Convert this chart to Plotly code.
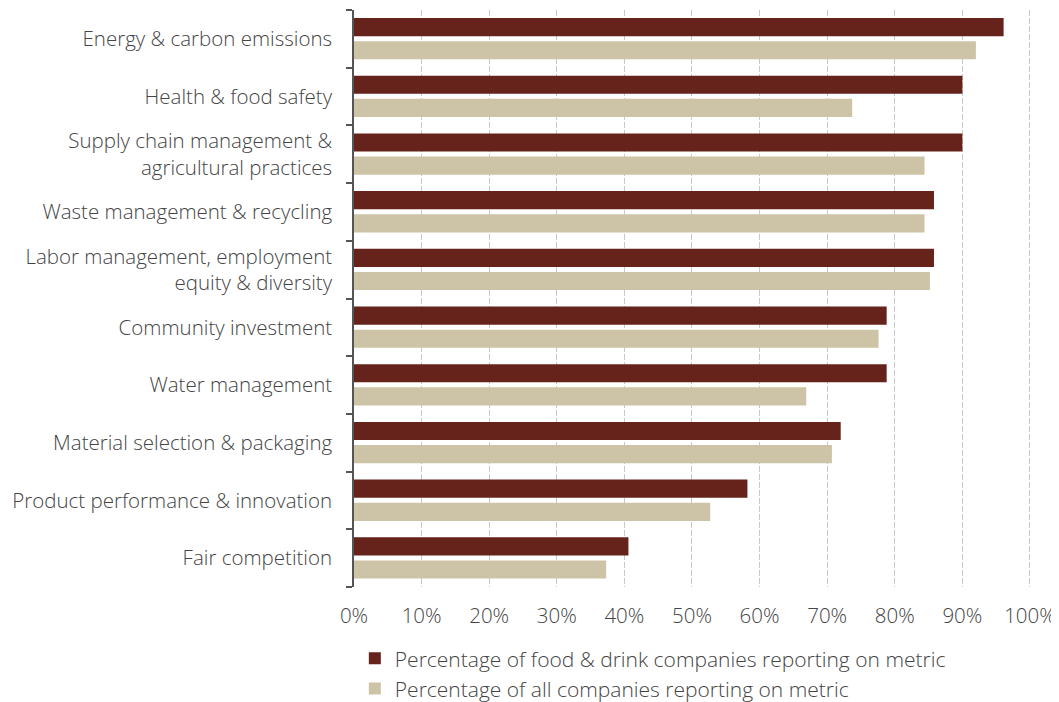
import plotly.graph_objects as go

categories = [
    "Energy & carbon emissions",
    "Health & food safety",
    "Supply chain management &<br>agricultural practices",
    "Waste management & recycling",
    "Labor management, employment<br>equity & diversity",
    "Community investment",
    "Water management",
    "Material selection & packaging",
    "Product performance & innovation",
    "Fair competition",
]
food_drink = [96.1, 90.0, 90.0, 85.8, 85.8, 78.8, 78.8, 72.0, 58.2, 40.6]
all_companies = [92.0, 73.7, 84.4, 84.4, 85.2, 77.6, 66.9, 70.7, 52.7, 37.3]
x_ticks = [0, 10, 20, 30, 40, 50, 60, 70, 80, 90, 100]
x_tick_labels = [f"{v}%" for v in x_ticks]
series_names = [
    "Percentage of food & drink companies reporting on metric",
    "Percentage of all companies reporting on metric",
]

DARK = "#65231C"
BEIGE = "#CDC3A6"
TEXT = "#444444"
FONT = "Open Sans"
FS = 20.5

fig = go.Figure()
fig.add_trace(go.Bar(
    y=categories, x=food_drink, orientation="h", name=series_names[0],
    legendgroup="a",
    marker=dict(color=DARK, line=dict(width=0)),
    width=0.314, offset=0.047,
))
fig.add_trace(go.Bar(
    y=categories, x=all_companies, orientation="h", name=series_names[1],
    legendgroup="b",
    marker=dict(color=BEIGE, line=dict(width=0)),
    width=0.314, offset=-0.354,
))

fig.update_layout(
    width=1051, height=694,
    margin=dict(l=346, r=27, t=2, b=115, autoexpand=False),
    paper_bgcolor="white", plot_bgcolor="white",
    barmode="overlay",
    font=dict(family=FONT, size=FS, color=TEXT, weight=300),
    showlegend=True,
    legend=dict(
        orientation="v", xref="container", yref="container",
        x=0.33, xanchor="left", y=0.092, yanchor="top",
        traceorder="grouped", font=dict(family=FONT, size=21, color=TEXT, weight=300),
        bgcolor="rgba(0,0,0,0)", tracegroupgap=0,
    ),
)
fig.update_yaxes(
    type="category",
    categoryorder="array", categoryarray=categories[::-1],
    range=[-0.5, len(categories) - 0.5],
    showline=True, linecolor="#555555", linewidth=1.5,
    ticks="outside", tickson="boundaries", ticklen=6, tickcolor="#555555", tickwidth=1.5,
    ticklabelstandoff=16,
    showgrid=False, zeroline=False,
    tickfont=dict(family=FONT, size=FS, color=TEXT, weight=300),
)
fig.update_xaxes(
    range=[0, 100.3], tickvals=x_ticks, ticktext=x_tick_labels,
    showgrid=True, gridcolor="#c8c8c8", gridwidth=1, griddash="6px,2px",
    showline=False, zeroline=False, ticks="",
    ticklabelstandoff=14,
    tickfont=dict(family=FONT, size=FS, color=TEXT, weight=300),
)

fig.write_html("out.html")
